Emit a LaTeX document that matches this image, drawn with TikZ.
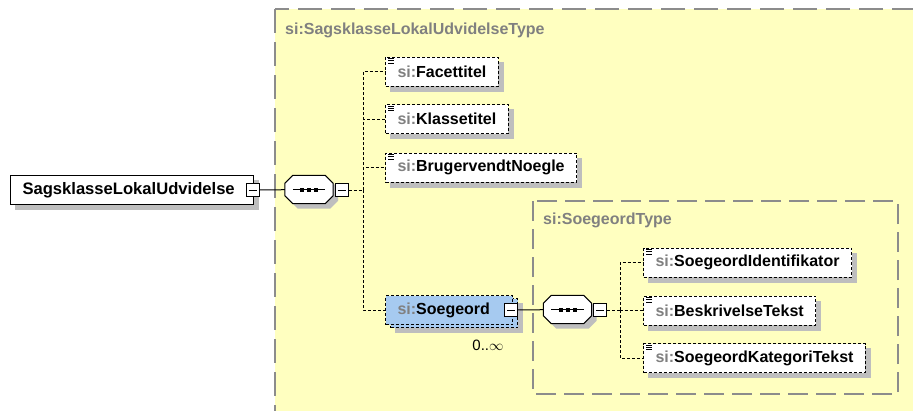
\documentclass[tikz,border=0pt]{standalone}
\usepackage{fontspec}
\setmainfont{Liberation Sans}
\definecolor{typeyellow}{HTML}{FFFFC0}
\definecolor{framegray}{HTML}{8C8C8C}
\definecolor{prefixgray}{HTML}{808080}
\definecolor{shadowgray}{HTML}{BEBEBE}
\definecolor{selblue}{HTML}{A6CAF0}
\pgfdeclarelayer{back}
\pgfdeclarelayer{shade}
\pgfsetlayers{back,shade,main}
\newcommand\elemfont{\fontsize{16}{19}\selectfont\bfseries}
\newcommand\nsp{{\color{prefixgray}si:}}
\newcommand\castshadow[1]{%
  \begin{pgfonlayer}{shade}
    \fill [shadowgray] ([shift={(5,5)}]#1.north west) rectangle ([shift={(5,5)}]#1.south east);
  \end{pgfonlayer}}
\newcommand\simplemark[1]{%
  \draw [line width=0.8pt] ([shift={(3,2)}]#1.north west) -- ++(6,0)
        ([shift={(3,4.2)}]#1.north west) -- ++(6,0)
        ([shift={(3,6.4)}]#1.north west) -- ++(6,0);}
\newcommand\octpath[1]{([xshift=8pt]#1.north west) -- ([xshift=-8pt]#1.north east)
  -- ([yshift=-8pt]#1.north east) -- ([yshift=8pt]#1.south east)
  -- ([xshift=-8pt]#1.south east) -- ([xshift=8pt]#1.south west)
  -- ([yshift=8pt]#1.south west) -- ([yshift=-8pt]#1.north west) -- cycle}
\newcommand\seqdots[1]{%
  \begin{pgfonlayer}{shade}
    \fill [shadowgray, transform canvas={shift={(5pt,-5pt)}}] \octpath{#1};
  \end{pgfonlayer}
  \draw [line width=1pt, fill=white] \octpath{#1};
  \draw [line width=0.8pt] ([xshift=8pt]#1.west) -- ([xshift=-8pt]#1.east);
  \foreach \dx in {-7,0,7} \fill ([xshift=\dx pt]#1.center) +(-2,-2) rectangle +(2,2);}
\tikzset{
  typebox/.style={draw=framegray, line width=1.2pt, fill=typeyellow},
  typelabel/.style={anchor=west, inner sep=0pt, text=prefixgray, font=\elemfont},
  elem/.style={draw, fill=white, line width=1pt, dash pattern=on 3pt off 2pt,
    minimum height=29pt, inner xsep=12pt, inner ysep=0pt, anchor=west, font=\elemfont},
  rootelem/.style={elem, solid},
  seqbox/.style={inner sep=0pt, minimum width=48pt, minimum height=28pt},
  minusbox/.style={draw, fill=white, line width=1pt, minimum size=13pt, inner sep=0pt},
  link/.style={line width=1pt},
  optlink/.style={line width=1pt, dash pattern=on 3pt off 2pt}
}
\begin{document}
\begin{tikzpicture}[x=1pt,y=-1pt]
  \useasboundingbox (0,0) rectangle (913,410);
  \clip (0,0) rectangle (913,410);
  % complex types
  \begin{pgfonlayer}{back}
    \draw [typebox, dash pattern=on 24pt off 9pt] (275,9) rectangle (940,440);
    \draw [typebox, dash pattern=on 20pt off 8pt] (533,201) rectangle (898,394);
  \end{pgfonlayer}
  \node [typelabel] (outerlbl) at (285,30) {si:SagsklasseLokalUdvidelseType};
  \node [typelabel] (innerlbl) at (543,220) {si:SoegeordType};
  % root element and first sequence
  \node [rootelem, text width=219pt, align=left] (root) at (10,190) {\fontsize{16.6}{19}\selectfont SagsklasseLokalUdvidelse};
  \castshadow{root}
  \node [minusbox] (rootm) at ([xshift=-1.5pt]root.east) {\rule{8pt}{1pt}};
  \node [seqbox] (seqa) at (309,189.5) {};
  \seqdots{seqa}
  \node [minusbox] (seqam) at (341.5,190) {\rule{8pt}{1pt}};
  \coordinate (ja) at (363,190);
  \draw [link] (rootm) -- (seqa);
  \draw [optlink] (seqam) -- (ja);
  % children of the outer type
  \node [elem] (facet) at (385,71.5) {\nsp Facettitel};
  \node [elem] (klasse) at (385,119) {\nsp Klassetitel};
  \node [elem] (bruger) at (385,167.5) {\nsp BrugervendtNoegle};
  \node [elem, fill=selblue, text width=103pt] (soegback) at (390,313) {};
  \castshadow{soegback}
  \node [elem, fill=selblue, text width=103pt, align=left] (soeg) at (385,310) {\nsp Soegeord};
  \node [minusbox] (soegm) at ([xshift=-2pt]soeg.east) {\rule{8pt}{1pt}};
  \node [font=\fontsize{15}{18}\selectfont, inner sep=0pt] (soegcard) at (488,345) {0..$\infty$};
  \foreach \c in {facet,klasse,bruger} {\castshadow{\c} \simplemark{\c}}
  \foreach \c in {facet,klasse,bruger,soeg} \draw [optlink] (ja) |- (\c.west);
  % second sequence
  \node [seqbox] (seqb) at (567.5,309.5) {};
  \seqdots{seqb}
  \node [minusbox] (seqbm) at (600,310) {\rule{8pt}{1pt}};
  \coordinate (jb) at (620,310);
  \draw [link] (soegm) -- (seqb);
  \draw [optlink] (seqbm) -- (jb);
  % children of the inner type
  \node [elem] (ident) at (643,262.5) {\nsp SoegeordIdentifikator};
  \node [elem] (beskr) at (643,310.5) {\nsp BeskrivelseTekst};
  \node [elem] (kateg) at (643,358) {\nsp SoegeordKategoriTekst};
  \foreach \c in {ident,beskr,kateg} {\castshadow{\c} \simplemark{\c}}
  \foreach \c in {ident,beskr,kateg} \draw [optlink] (jb) |- (\c.west);
\end{tikzpicture}
\end{document}
